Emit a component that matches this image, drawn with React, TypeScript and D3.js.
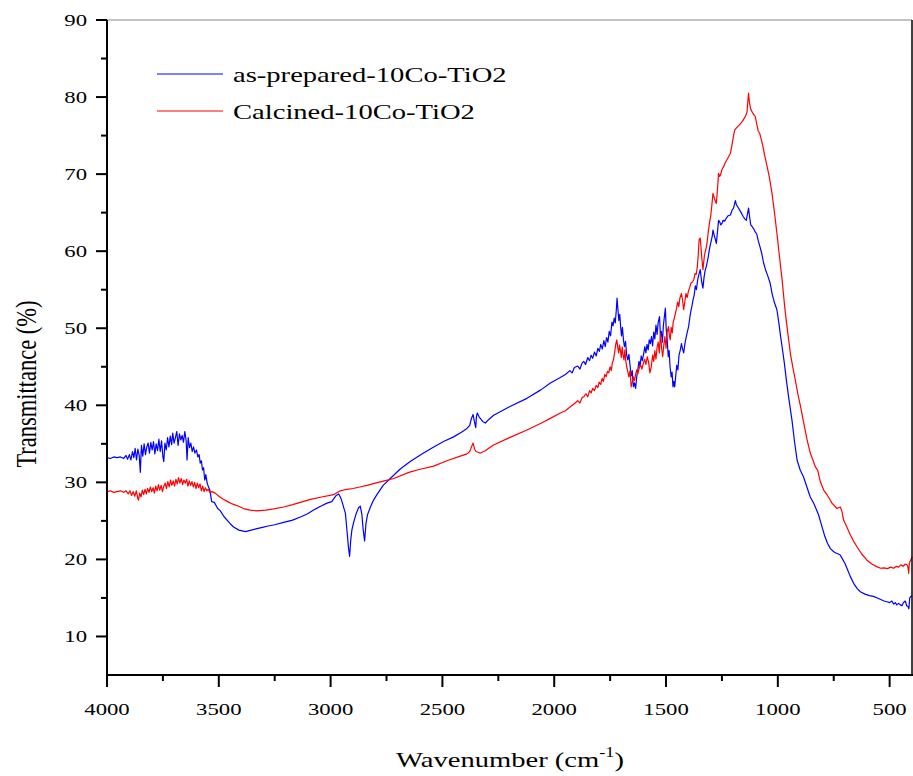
import React from "react";
import * as d3 from "d3";

const seriesNames = ["as-prepared-10Co-TiO2", "Calcined-10Co-TiO2"];
const seriesColors = ["#0000ff", "#ff0000"];

const xTicks = [4000, 3500, 3000, 2500, 2000, 1500, 1000, 500];
const xMinorTicks = [3750, 3250, 2750, 2250, 1750, 1250, 750];
const yTicks = [10, 20, 30, 40, 50, 60, 70, 80, 90];
const yMinorTicks = [15, 25, 35, 45, 55, 65, 75, 85];

// as-prepared-10Co-TiO2: [wavenumber, transmittance]
const asPrepared: [number, number][] = [
  [4000,33.2],[3985,33.1],[3970,33.3],[3955,33.2],[3940,33.3],[3925,33.1],[3915,33.5],[3908,33.0],[3900,33.6],[3893,32.9],
  [3886,34.0],[3880,33.2],[3874,34.4],[3868,32.9],[3862,34.3],[3856,33.5],[3851,31.3],[3846,34.8],[3840,33.4],[3834,35.0],
  [3828,33.6],[3822,34.6],[3816,35.1],[3810,33.8],[3804,35.2],[3798,34.2],[3792,35.3],[3786,33.7],[3780,35.0],[3774,34.1],
  [3768,35.6],[3762,34.0],[3756,35.4],[3750,33.3],[3746,32.7],[3741,35.1],[3735,34.2],[3729,35.8],[3723,34.6],[3717,36.0],
  [3711,34.9],[3706,36.4],[3700,35.1],[3694,35.8],[3688,36.6],[3682,34.8],[3676,36.3],[3670,35.5],[3664,36.1],[3658,35.2],
  [3652,36.6],[3646,35.4],[3642,32.9],[3637,35.8],[3631,34.5],[3625,35.1],[3619,34.0],[3613,34.6],[3607,33.8],[3600,34.2],
  [3594,33.3],[3588,33.6],[3583,32.5],[3578,32.8],[3573,31.6],[3568,31.9],[3563,30.3],[3558,31.0],[3552,29.9],[3546,29.4],
  [3540,29.0],[3532,27.5],[3520,27.4],[3505,26.6],[3493,26.3],[3478,25.6],[3463,25.1],[3448,24.6],[3434,24.2],[3410,23.8],
  [3381,23.6],[3355,23.8],[3329,24.0],[3300,24.2],[3284,24.3],[3250,24.5],[3210,24.8],[3170,25.1],[3135,25.5],[3105,25.9],
  [3076,26.4],[3045,26.9],[3016,27.3],[2995,27.5],[2975,28.3],[2964,28.5],[2955,28.0],[2949,27.5],[2940,26.6],[2934,26.0],
  [2926,23.5],[2920,21.5],[2915,20.4],[2910,22.5],[2905,23.8],[2897,24.8],[2885,26.0],[2875,26.7],[2867,26.9],[2860,25.8],
  [2855,24.0],[2848,22.4],[2842,24.6],[2835,25.8],[2822,26.8],[2808,27.7],[2793,28.4],[2765,29.6],[2733,30.5],[2690,31.7],
  [2644,32.7],[2590,33.7],[2539,34.6],[2495,35.3],[2450,35.9],[2415,36.5],[2390,37.0],[2378,37.4],[2370,38.3],[2363,38.8],
  [2357,37.9],[2351,37.1],[2348,38.5],[2344,39.0],[2336,38.5],[2320,37.9],[2308,37.7],[2295,38.1],[2271,38.7],[2200,39.8],
  [2122,40.9],[2060,42.0],[2017,42.9],[1973,43.6],[1950,44.0],[1930,44.5],[1920,44.2],[1910,44.9],[1895,45.1],[1885,44.7],
  [1875,45.5],[1868,45.7],[1860,45.3],[1850,46.2],[1842,45.8],[1835,46.5],[1828,46.1],[1820,46.9],[1812,46.4],[1805,47.4],
  [1798,47.0],[1792,47.9],[1785,47.3],[1778,48.4],[1772,47.6],[1766,48.8],[1760,48.2],[1754,49.6],[1748,49.0],[1742,50.8],
  [1737,50.3],[1732,51.3],[1727,50.7],[1722,52.5],[1719,53.9],[1715,52.4],[1711,51.0],[1707,51.8],[1703,50.2],[1699,49.0],
  [1695,50.1],[1690,48.4],[1686,47.6],[1681,48.3],[1676,46.5],[1671,45.9],[1666,46.6],[1661,45.2],[1656,43.8],[1651,44.5],
  [1646,42.4],[1641,42.9],[1636,42.2],[1631,43.7],[1626,44.6],[1621,45.7],[1616,45.1],[1611,46.4],[1606,45.8],[1600,46.7],
  [1595,47.6],[1590,46.8],[1585,47.9],[1580,47.2],[1575,48.5],[1570,48.0],[1565,48.9],[1560,47.7],[1555,49.5],[1550,48.6],
  [1545,50.4],[1540,49.2],[1535,50.8],[1529,51.5],[1525,48.9],[1521,49.6],[1516,48.2],[1512,50.3],[1507,51.6],[1503,52.6],
  [1499,49.8],[1495,48.6],[1490,46.3],[1486,47.1],[1482,45.0],[1477,43.7],[1473,44.3],[1469,42.4],[1465,43.1],[1461,42.4],
  [1457,43.7],[1452,45.2],[1447,44.6],[1442,46.5],[1436,47.2],[1431,48.0],[1426,47.3],[1421,46.8],[1416,47.9],[1411,48.7],
  [1405,49.5],[1399,50.2],[1394,51.3],[1389,52.2],[1384,52.9],[1379,53.7],[1374,54.3],[1369,55.5],[1364,55.0],[1359,56.2],
  [1353,57.0],[1347,57.6],[1341,56.1],[1335,55.2],[1330,56.6],[1325,57.5],[1320,58.0],[1317,58.4],[1311,59.3],[1305,60.4],
  [1299,61.2],[1293,62.0],[1290,62.75],[1285,62.1],[1280,61.6],[1275,61.0],[1270,62.5],[1265,64.0],[1260,63.8],[1255,63.4],
  [1250,63.6],[1245,64.0],[1238,63.9],[1230,64.3],[1222,64.6],[1212,64.7],[1205,65.3],[1198,65.6],[1193,66.2],[1190,66.55],
  [1185,66.0],[1178,65.7],[1170,65.3],[1162,64.9],[1155,64.5],[1148,64.2],[1141,64.0],[1136,64.8],[1131,65.6],[1126,64.4],
  [1121,63.4],[1115,63.2],[1108,62.9],[1101,62.5],[1094,62.2],[1088,61.4],[1080,60.6],[1072,59.7],[1063,58.4],[1055,57.6],
  [1045,56.8],[1034,55.8],[1025,54.4],[1015,53.3],[1004,52.4],[995,50.6],[988,49.0],[981,47.6],[971,45.5],[962,43.3],
  [950,40.7],[937,38.1],[925,35.2],[914,32.9],[900,31.6],[885,30.7],[870,29.4],[855,28.1],[838,27.2],[818,25.8],
  [800,24.0],[790,23.0],[778,22.1],[765,21.4],[750,21.0],[738,20.8],[722,20.6],[712,20.1],[700,19.5],[691,18.85],
  [676,17.8],[661,16.9],[645,16.2],[631,15.8],[610,15.5],[590,15.3],[572,15.2],[555,15.0],[540,14.8],[525,14.6],
  [512,14.5],[500,14.4],[490,14.6],[482,14.2],[475,14.4],[468,14.1],[460,14.3],[452,14.1],[445,14.0],[438,14.4],
  [430,14.6],[424,14.0],[418,13.9],[414,13.6],[410,15.0],[405,15.2],[400,15.3]
];

// Calcined-10Co-TiO2: [wavenumber, transmittance]
const calcined: [number, number][] = [
  [4000,28.8],[3985,28.9],[3970,28.7],[3955,28.8],[3940,28.9],[3925,28.7],[3915,28.9],[3905,28.5],[3897,28.9],[3890,28.3],
  [3883,28.8],[3876,28.2],[3869,28.9],[3862,27.9],[3859,27.7],[3854,28.6],[3848,28.1],[3842,29.0],[3836,28.4],[3830,29.1],
  [3824,28.5],[3818,29.2],[3812,28.7],[3806,29.4],[3800,28.8],[3794,29.3],[3788,28.6],[3782,29.5],[3776,28.9],[3770,29.7],
  [3764,29.0],[3758,29.6],[3752,28.8],[3746,29.5],[3740,29.9],[3734,29.2],[3728,30.1],[3722,29.4],[3716,30.3],[3710,29.6],
  [3704,30.2],[3698,29.5],[3692,30.4],[3686,29.8],[3680,30.6],[3674,29.9],[3668,30.5],[3662,29.7],[3656,30.3],[3650,29.9],
  [3644,30.4],[3638,29.5],[3632,30.2],[3626,29.6],[3620,30.1],[3614,29.4],[3608,30.0],[3602,29.2],[3596,29.9],[3590,29.3],
  [3584,29.8],[3578,28.9],[3572,29.5],[3566,28.8],[3560,29.3],[3554,28.9],[3548,29.1],[3540,28.7],[3530,28.8],[3516,28.6],
  [3500,28.2],[3480,27.8],[3460,27.5],[3440,27.2],[3411,26.9],[3390,26.6],[3360,26.4],[3329,26.3],[3290,26.4],[3255,26.55],
  [3210,26.8],[3170,27.1],[3135,27.4],[3090,27.8],[3040,28.1],[2987,28.4],[2957,28.9],[2927,29.1],[2900,29.2],[2870,29.4],
  [2837,29.6],[2800,29.9],[2760,30.2],[2718,30.5],[2650,31.3],[2600,31.7],[2539,32.1],[2480,32.8],[2420,33.4],[2390,33.7],
  [2378,34.0],[2370,34.6],[2363,35.1],[2356,34.3],[2350,34.0],[2340,33.9],[2330,33.8],[2308,34.1],[2290,34.5],[2271,34.85],
  [2200,35.8],[2122,36.8],[2050,37.8],[2017,38.3],[1973,39.0],[1950,39.3],[1928,39.8],[1910,40.2],[1895,40.6],[1885,40.3],
  [1875,41.0],[1868,41.1],[1858,41.5],[1850,41.1],[1842,41.9],[1835,41.6],[1828,42.2],[1820,41.9],[1812,42.6],[1805,42.3],
  [1799,43.0],[1792,42.7],[1786,43.5],[1780,43.1],[1774,44.0],[1768,43.7],[1762,44.4],[1756,44.2],[1750,45.0],[1745,44.5],
  [1740,45.5],[1735,45.9],[1730,46.8],[1725,47.9],[1720,48.5],[1716,47.5],[1712,46.8],[1708,47.8],[1704,47.1],[1700,46.2],
  [1696,47.6],[1692,46.5],[1688,45.9],[1684,47.2],[1680,45.8],[1676,45.0],[1671,44.4],[1666,43.7],[1661,44.5],[1656,42.4],
  [1651,43.0],[1646,43.7],[1641,43.2],[1636,44.0],[1631,44.6],[1626,44.1],[1620,44.8],[1614,45.3],[1608,44.7],[1602,45.4],
  [1596,46.0],[1590,45.3],[1584,46.3],[1578,45.6],[1572,44.2],[1566,45.0],[1560,46.5],[1555,45.7],[1550,47.1],[1545,46.0],
  [1540,47.5],[1535,48.2],[1530,46.8],[1525,49.3],[1520,47.5],[1515,46.3],[1510,47.8],[1505,48.9],[1500,47.4],[1495,49.5],
  [1489,50.2],[1485,49.0],[1481,48.5],[1477,50.1],[1472,49.4],[1468,50.8],[1463,51.3],[1458,51.9],[1453,52.6],[1448,53.4],
  [1443,52.8],[1438,53.9],[1431,54.5],[1426,53.6],[1421,52.4],[1416,53.4],[1411,54.5],[1405,54.0],[1400,54.8],[1394,55.3],
  [1388,55.9],[1382,56.0],[1376,56.3],[1370,57.1],[1365,57.0],[1360,58.0],[1356,59.5],[1352,61.5],[1347,61.7],[1341,59.5],
  [1335,57.6],[1328,59.5],[1320,60.5],[1317,61.0],[1310,62.75],[1305,63.8],[1300,64.6],[1295,66.0],[1290,67.5],[1285,67.0],
  [1280,66.5],[1275,66.2],[1270,68.0],[1265,70.1],[1260,69.7],[1255,70.0],[1250,70.6],[1242,71.0],[1235,71.5],[1225,72.0],
  [1212,72.7],[1205,73.8],[1198,75.0],[1193,75.7],[1185,76.0],[1175,76.3],[1165,76.6],[1155,77.0],[1145,77.5],[1138,78.0],
  [1134,79.5],[1131,80.5],[1127,79.3],[1122,78.5],[1117,78.2],[1110,77.8],[1101,77.5],[1095,76.6],[1088,75.6],[1081,75.3],
  [1075,74.6],[1068,73.8],[1060,72.6],[1048,71.0],[1038,69.6],[1026,67.5],[1015,65.0],[1004,62.3],[993,59.4],[981,56.3],
  [972,53.6],[966,51.9],[955,49.3],[944,46.75],[932,44.8],[922,43.3],[910,41.4],[898,39.8],[887,38.1],[878,36.8],
  [869,35.5],[855,33.8],[842,32.8],[832,32.0],[822,31.6],[810,30.1],[795,29.0],[780,28.4],[768,27.8],[758,27.3],
  [745,26.9],[735,26.6],[728,26.7],[720,26.8],[713,26.2],[706,25.1],[690,24.1],[676,23.2],[660,22.3],[646,21.65],
  [625,20.7],[601,19.9],[580,19.4],[560,19.1],[541,18.85],[525,18.9],[510,18.8],[495,19.0],[482,18.85],[470,19.1],
  [460,19.0],[450,19.3],[440,19.1],[430,19.4],[422,19.3],[418,19.0],[415,18.2],[412,19.5],[408,19.8],[404,20.0],[400,20.35]
];

const W = 913;
const H = 776;
const left = 107;
const right = 912;
const top = 20;
const bottom = 675;
const SX = 1.3; // horizontal stretch of glyphs
const FONT = "'Liberation Serif', 'Times New Roman', serif";

export default function App() {
  const x = d3.scaleLinear().domain([4000, 400]).range([left, right]);
  const y = d3.scaleLinear().domain([5, 90]).range([bottom, top]);
  const line = d3
    .line<[number, number]>()
    .x((d) => x(d[0]))
    .y((d) => y(d[1]));
  const data = [asPrepared, calcined];

  return (
    <svg
      width={W}
      height={H}
      style={{ position: "absolute", left: 0, top: 0, background: "#fff" }}
      fontFamily={FONT}
    >
      <rect x={0} y={0} width={W} height={H} fill="#fff" />
      {/* series */}
      {data.map((d, i) => (
        <path key={i} d={line(d) || ""} fill="none" stroke={seriesColors[i]} strokeWidth={1.2} strokeLinejoin="round" />
      ))}
      {/* frame */}
      <line x1={left} x2={right} y1={top} y2={top} stroke="#888" strokeWidth={1} />
      <line x1={right} x2={right} y1={top} y2={bottom} stroke="#000" strokeWidth={1.5} />
      <line x1={left} x2={left} y1={top} y2={bottom + 1} stroke="#000" strokeWidth={2} />
      <line x1={left - 1} x2={right + 1} y1={bottom} y2={bottom} stroke="#000" strokeWidth={2} />
      {/* y ticks */}
      {yTicks.map((t) => (
        <g key={"y" + t}>
          <line x1={left - 11} x2={left} y1={y(t)} y2={y(t)} stroke="#000" strokeWidth={2} />
          <text
            transform={`translate(${left - 20},${y(t) + 6}) scale(${SX},1)`}
            textAnchor="end"
            fontSize={17.5}
            fill="#000"
          >
            {t}
          </text>
        </g>
      ))}
      {yMinorTicks.map((t) => (
        <line key={"ym" + t} x1={left - 6} x2={left} y1={y(t)} y2={y(t)} stroke="#000" strokeWidth={2} />
      ))}
      {/* x ticks */}
      {xTicks.map((t) => (
        <g key={"x" + t}>
          <line x1={x(t)} x2={x(t)} y1={bottom} y2={bottom + 12} stroke="#000" strokeWidth={2} />
          <text
            transform={`translate(${x(t)},${bottom + 40}) scale(${SX},1)`}
            textAnchor="middle"
            fontSize={17.5}
            fill="#000"
          >
            {t}
          </text>
        </g>
      ))}
      {xMinorTicks.map((t) => (
        <line key={"xm" + t} x1={x(t)} x2={x(t)} y1={bottom} y2={bottom + 6} stroke="#000" strokeWidth={2} />
      ))}
      {/* axis titles */}
      <text transform={`translate(510,767) scale(${SX},1)`} textAnchor="middle" fontSize={22} fill="#000">
        Wavenumber (cm
        <tspan fontSize={14} dy={-10}>-1</tspan>
        <tspan dy={10}>)</tspan>
      </text>
      <text
        transform={`translate(36,384) scale(${SX},1) rotate(-90)`}
        textAnchor="middle"
        fontSize={22.5}
        fill="#000"
      >
        Transmittance (%)
      </text>
      {/* legend */}
      {seriesNames.map((n, i) => (
        <g key={n}>
          <line x1={157} x2={223} y1={74 + i * 37} y2={74 + i * 37} stroke={seriesColors[i]} strokeWidth={1.2} />
          <text
            transform={`translate(233,${82 + i * 37}) scale(${SX},1)`}
            fontSize={22}
            fill="#000"
          >
            {n}
          </text>
        </g>
      ))}
    </svg>
  );
}
